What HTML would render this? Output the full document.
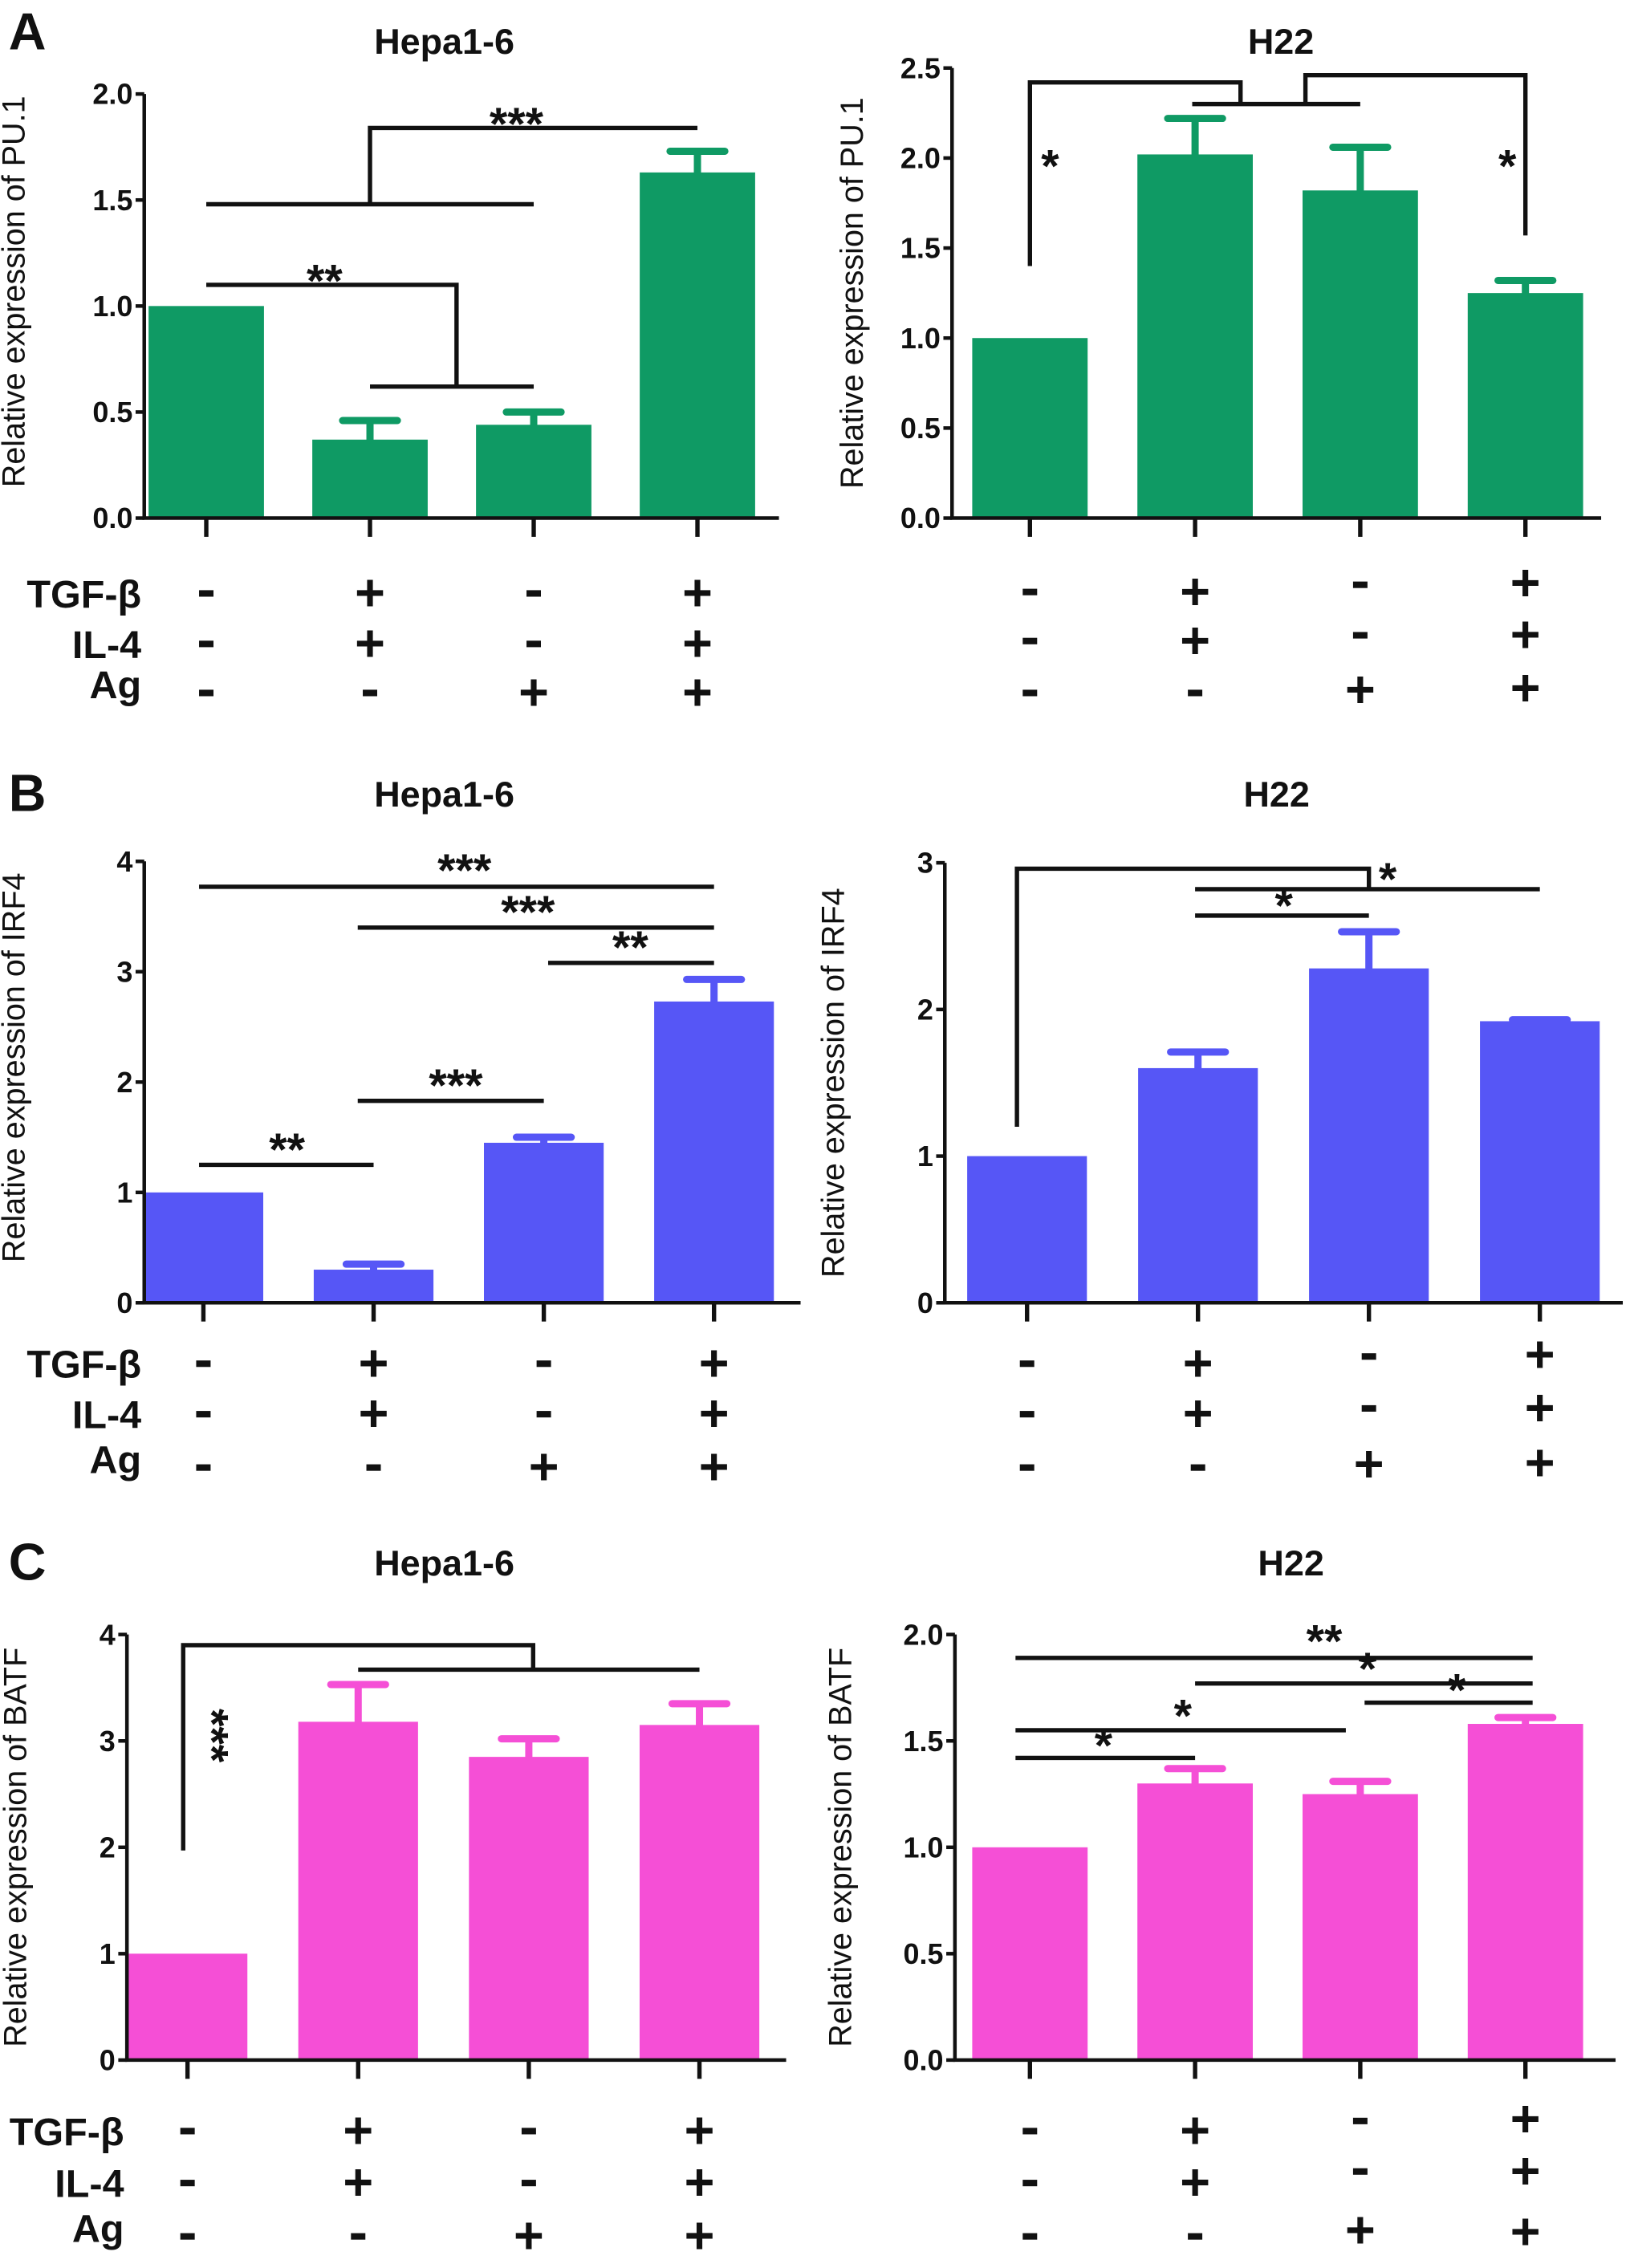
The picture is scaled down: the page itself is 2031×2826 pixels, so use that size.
<!DOCTYPE html>
<html><head><meta charset="utf-8"><style>
html,body{margin:0;padding:0;background:#fff}
svg{display:block}
text{font-family:"Liberation Sans",Arial,sans-serif;fill:#111}
</style></head><body>
<svg id="fig" xmlns="http://www.w3.org/2000/svg" width="2031" height="2826" viewBox="0 0 1130 1572"></svg>
<script>
// ---- data ----
const groups = ["Control","TGF-β+IL-4","Ag","TGF-β+IL-4+Ag"];
const tgfRow = ["-","+","-","+"];
const il4Row = ["-","+","-","+"];
const agRow  = ["-","-","+","+"];

const aHepaValues = [1.0, 0.37, 0.44, 1.63];
const aHepaErr    = [1.0, 0.46, 0.50, 1.73];
const aH22Values  = [1.0, 2.02, 1.82, 1.25];
const aH22Err     = [1.0, 2.22, 2.06, 1.32];
const bHepaValues = [1.0, 0.30, 1.45, 2.73];
const bHepaErr    = [1.0, 0.35, 1.50, 2.93];
const bH22Values  = [1.0, 1.60, 2.28, 1.92];
const bH22Err     = [1.0, 1.71, 2.53, 1.93];
const cHepaValues = [1.0, 3.18, 2.85, 3.15];
const cHepaErr    = [1.0, 3.53, 3.02, 3.35];
const cH22Values  = [1.0, 1.30, 1.25, 1.58];
const cH22Err     = [1.0, 1.37, 1.31, 1.61];

const ticks05_20 = ["0.0","0.5","1.0","1.5","2.0"];
const ticks05_25 = ["0.0","0.5","1.0","1.5","2.0","2.5"];
const ticks1_4 = ["0","1","2","3","4"];
const ticks1_3 = ["0","1","2","3"];

const NS="http://www.w3.org/2000/svg";
const svg=document.getElementById('fig');
function el(tag,attrs,parent){const e=document.createElementNS(NS,tag);for(const k in attrs)e.setAttribute(k,attrs[k]);(parent||svg).appendChild(e);return e;}
function txt(s,attrs,parent){const t=el('text',attrs,parent);t.textContent=s;return t;}

function panel(cfg){
  const g=el('g',{});
  
  
  const ymax=parseFloat(cfg.ticks[cfg.ticks.length-1]);
  const y=v=>cfg.y0-(v/ymax)*(cfg.y0-cfg.ytop);
  const x=i=>cfg.x0+cfg.c0+i*cfg.step;
  const tt=txt(cfg.title,{x:cfg.titleX,y:cfg.titleY,'font-size':25,'font-weight':'bold','text-anchor':'middle'},g);
  
  
  const ym=(cfg.y0+cfg.ytop)/2+cfg.ylShift;
  const lx=cfg.x0-cfg.ylOff;
  const yl=txt(cfg.ylabel,{x:lx,y:ym,'font-size':22,'text-anchor':'middle',transform:`rotate(-90 ${lx} ${ym})`},g);
  
  
  cfg.values.forEach((v,i)=>{
    const r=el('rect',{x:x(i)-cfg.bw/2,y:y(v),width:cfg.bw,height:cfg.y0-y(v),fill:cfg.color},g);
    
    
    const e=cfg.err[i];
    if(e>v+0.001){
      const eb=el('path',{d:`M${x(i)} ${y(v)}V${y(e)}M${x(i)-19} ${y(e)}H${x(i)+19}`,stroke:cfg.color,'stroke-width':5,'stroke-linecap':'round',fill:'none'},g);
      
      
    }
  });
  const ax=el('path',{d:`M${cfg.x0} ${cfg.ytop}V${cfg.y0}H${cfg.x1}`,stroke:'#111','stroke-width':2.5,fill:'none'},g);
  
  
  cfg.ticks.forEach((t,k)=>{
    const v=parseFloat(t);
    el('line',{x1:cfg.x0-6,x2:cfg.x0,y1:y(v),y2:y(v),stroke:'#111','stroke-width':2.5},g);
    const tl=txt(t,{x:cfg.x0-8,y:y(v)+7,'font-size':20,'font-weight':'bold','text-anchor':'end'},g);
    
    
  });
  groups.forEach((gname,i)=>{
    el('line',{x1:x(i),x2:x(i),y1:cfg.y0,y2:cfg.y0+13,stroke:'#111','stroke-width':3},g);
  });
  const rows=[tgfRow,il4Row,agRow], rowNames=["TGF-β","IL-4","Ag"];
  rows.forEach((row,r)=>{
    const ry=cfg.rowY[r];
    if(cfg.rowLabels){
      const lb=txt(rowNames[r],{x:cfg.x0-2,y:ry+10-(r==2?6:0),'font-size':27,'font-weight':'bold','text-anchor':'end'},g);
      
      
    }
    row.forEach((s,i)=>{
      const sy=ry+(cfg.shift?cfg.shift[r][i]:0);
      let t;
      if(s==='+'){
        t=txt('+',{x:x(i),y:sy+12,'font-size':36,'font-weight':'bold','text-anchor':'middle'},g);
      } else {
        t=el('rect',{x:x(i)-5,y:sy-2,width:10,height:4.5,fill:'#111'},g);
      }
      
      
    });
  });
  cfg.brackets.forEach(b=>{
    const p=el('path',{d:b.d(x,y),stroke:'#111','stroke-width':3,fill:'none'},g);
    
    
    const s=txt(b.s,{x:b.tx(x),y:y(b.ty)+(b.rot?0:14),'font-size':32,'font-weight':'bold','text-anchor':'middle'},g);
    if(b.rot){s.setAttribute('transform',`rotate(90 ${b.tx(x)} ${y(b.ty)})`);}
    
    
  });
}
function letter(s,yy){const t=txt(s,{x:6,y:yy,'font-size':36,'font-weight':'bold'});
  
  }
letter('A',34);letter('B',562);letter('C',1095);

const GREEN='#0f9a64',BLUE='#5656f6',PINK='#f54fd6';
const sh2=[[0,0,-5,-6],[0,0,-4,-4],[0,0,-2,-3]];

panel({name:'panel-a-hepa',title:'Hepa1-6',titleX:308,titleY:37,ylabel:'Relative expression of PU.1',ylOff:83,ylShift:-10,color:GREEN,
  x0:100,x1:540,y0:359,ytop:65,c0:43,step:113.5,bw:80,ticks:ticks05_20,values:aHepaValues,err:aHepaErr,
  rowY:[411,446,480],rowLabels:true,
  brackets:[
   {s:'***',d:(x,y)=>`M${x(0)} ${y(1.48)}H${x(2)}M${x(1)} ${y(1.48)}V${y(1.84)}H${x(3)}`,tx:x=>358,ty:1.88},
   {s:'**',d:(x,y)=>`M${x(0)} ${y(1.1)}H${x(1)+60}V${y(0.62)}M${x(1)} ${y(0.62)}H${x(2)}`,tx:x=>225,ty:1.14}
  ]});
panel({name:'panel-a-h22',title:'H22',titleX:888,titleY:37,ylabel:'Relative expression of PU.1',ylOff:62,ylShift:0,color:GREEN,
  x0:660,x1:1110,y0:359,ytop:47,c0:54,step:114.5,bw:80,ticks:ticks05_25,values:aH22Values,err:aH22Err,
  rowY:[410,444,480],rowLabels:false,shift:sh2,
  brackets:[
   {s:'*',d:(x,y)=>`M${x(0)} ${y(1.4)}V${y(2.42)}H860V${y(2.3)}M${x(1)-2} ${y(2.3)}H${x(2)}`,tx:x=>728,ty:1.98},
   {s:'*',d:(x,y)=>`M${x(3)} ${y(1.57)}V${y(2.46)}H905V${y(2.3)}`,tx:x=>1045,ty:1.98}
  ]});
panel({name:'panel-b-hepa',title:'Hepa1-6',titleX:308,titleY:559,ylabel:'Relative expression of IRF4',ylOff:83,ylShift:-10,color:BLUE,
  x0:100,x1:555,y0:903,ytop:597,c0:41,step:118,bw:83,ticks:ticks1_4,values:bHepaValues,err:bHepaErr,
  rowY:[945,980,1017],rowLabels:true,
  brackets:[
   {s:'***',d:(x,y)=>`M${x(0)-3} ${y(3.77)}H${x(3)}`,tx:x=>322,ty:3.96},
   {s:'***',d:(x,y)=>`M${x(1)-11} ${y(3.4)}H${x(3)}`,tx:x=>366,ty:3.58},
   {s:'**',d:(x,y)=>`M${x(2)+3} ${y(3.08)}H${x(3)}`,tx:x=>437,ty:3.26},
   {s:'***',d:(x,y)=>`M${x(1)-11} ${y(1.83)}H${x(2)}`,tx:x=>316,ty:2.01},
   {s:'**',d:(x,y)=>`M${x(0)-3} ${y(1.25)}H${x(1)}`,tx:x=>199,ty:1.43}
  ]});
panel({name:'panel-b-h22',title:'H22',titleX:885,titleY:559,ylabel:'Relative expression of IRF4',ylOff:70,ylShift:0,color:BLUE,
  x0:655,x1:1125,y0:903,ytop:598,c0:57,step:118.5,bw:83,ticks:ticks1_3,values:bH22Values,err:bH22Err,
  rowY:[945,980,1017],rowLabels:false,shift:sh2,
  brackets:[
   {s:'*',d:(x,y)=>`M${x(0)-7} ${y(1.2)}V${y(2.96)}H${x(2)}V${y(2.82)}M${x(1)-2} ${y(2.82)}H${x(3)}`,tx:x=>962,ty:2.92},
   {s:'*',d:(x,y)=>`M${x(1)-2} ${y(2.64)}H${x(2)}`,tx:x=>890,ty:2.74}
  ]});
panel({name:'panel-c-hepa',title:'Hepa1-6',titleX:308,titleY:1092,ylabel:'Relative expression of BATF',ylOff:70,ylShift:0,color:PINK,
  x0:88,x1:545,y0:1428,ytop:1133,c0:42,step:118.3,bw:83,ticks:ticks1_4,values:cHepaValues,err:cHepaErr,
  rowY:[1477,1513,1550],rowLabels:true,
  brackets:[
   {s:'***',d:(x,y)=>`M${x(0)-3} ${y(1.97)}V${y(3.9)}H${x(2)+3}V${y(3.67)}M${x(1)} ${y(3.67)}H${x(3)}`,tx:x=>136,ty:3.05,rot:true}
  ]});
panel({name:'panel-c-h22',title:'H22',titleX:895,titleY:1092,ylabel:'Relative expression of BATF',ylOff:72,ylShift:0,color:PINK,
  x0:662,x1:1120,y0:1428,ytop:1133,c0:52,step:114.5,bw:80,ticks:ticks05_20,values:cH22Values,err:cH22Err,
  rowY:[1477,1513,1550],rowLabels:false,shift:[[0,0,-7,-8],[0,0,-8,-8],[0,0,-4,-3]],
  brackets:[
   {s:'**',d:(x,y)=>`M${x(0)-10} ${y(1.89)}H${x(3)+5}`,tx:x=>918,ty:1.99},
   {s:'*',d:(x,y)=>`M${x(1)} ${y(1.77)}H${x(3)+5}`,tx:x=>948,ty:1.86},
   {s:'*',d:(x,y)=>`M${x(2)+3} ${y(1.68)}H${x(3)+5}`,tx:x=>1010,ty:1.76},
   {s:'*',d:(x,y)=>`M${x(0)-10} ${y(1.55)}H${x(2)-10}`,tx:x=>820,ty:1.64},
   {s:'*',d:(x,y)=>`M${x(0)-10} ${y(1.42)}H${x(1)}`,tx:x=>765,ty:1.5}
  ]});
</script>
</body></html>
